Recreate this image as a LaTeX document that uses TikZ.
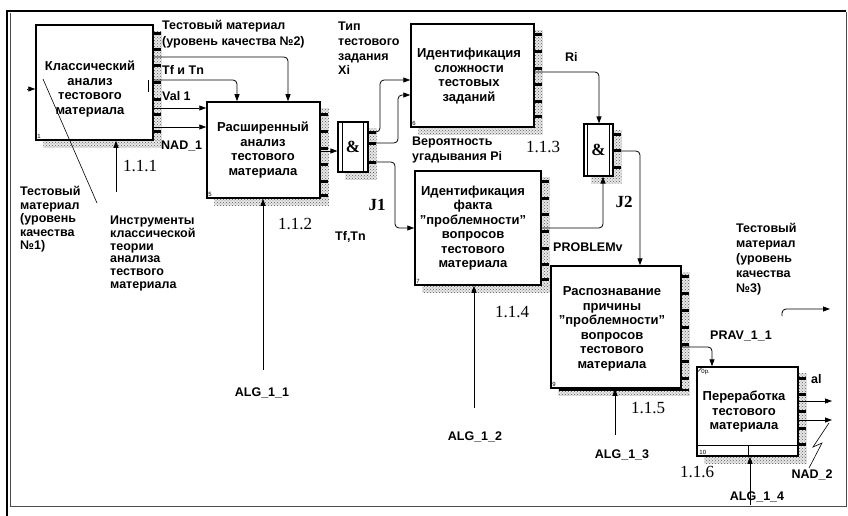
\documentclass[tikz,border=0pt]{standalone}
\usepackage{fontspec}
\setmainfont{Liberation Sans}
\newfontfamily\seriffont{Liberation Serif}
\usetikzlibrary{arrows.meta,patterns,calc,backgrounds}
\tikzset{
 proc/.style={draw, line width=1.5pt, fill=white, inner sep=0pt},
 lbl/.style={font=\bfseries\fontsize{12.5}{14.5}\selectfont, inner sep=0pt, align=left},
 btxt/.style={font=\bfseries\fontsize{13}{14.5}\selectfont, inner sep=0pt, align=center},
 num/.style={font=\seriffont\fontsize{17}{17}\selectfont, inner sep=0pt},
 jl/.style={font=\seriffont\bfseries\fontsize{17}{17}\selectfont, inner sep=0pt},
 conn/.style={line width=0.8pt, -{Triangle[length=7pt,width=5pt]}, rounded corners=4pt},
 plain/.style={line width=0.8pt},
 tinyt/.style={font=\fontsize{6}{6}\selectfont, inner sep=0pt},
 shade/.style={fill=gray!18, postaction={pattern=crosshatch dots, pattern color=black!65}},
}
\newcommand\shd[1]{%
 \fill[shade] ($(#1.north east)+(0,7)$) rectangle ($(#1.south east)+(8,7)$);
 \fill[shade] ($(#1.south west)+(8,0)$) rectangle ($(#1.south east)+(8,7)$);}
\newcommand\tks[2]{\foreach \t in {#2}{\fill[black] (#1,\t) rectangle ++(8,3);}}
\begin{document}
\begin{tikzpicture}[x=1pt,y=-1pt]
\useasboundingbox (0,0) rectangle (848,516);
% frame
\draw[line width=2pt] (7,516) -- (7,11) -- (846,11);
\draw[gray!60!black, line width=1pt] (10,13) -- (10,506) -- (846,506) -- (846,12);
% boxes
\node[proc, minimum width=117, minimum height=115] (b1) at (94.5,82.5) {};
\node[proc, minimum width=113, minimum height=96] (b5) at (263.5,150) {};
\node[proc, minimum width=123, minimum height=103] (b6) at (472.5,75.5) {};
\node[proc, minimum width=126, minimum height=114] (b7) at (478,228) {};
\node[proc, minimum width=130, minimum height=122] (b9) at (616,327) {};
\node[proc, minimum width=101, minimum height=89] (b10) at (747.5,411.5) {};
\node[proc, line width=1.2pt, minimum width=30, minimum height=50] (j1) at (353,147) {};
\node[proc, line width=1.2pt, minimum width=29, minimum height=52] (j2) at (598.5,150) {};
\begin{scope}[on background layer]
 \shd{b1}\shd{b5}\shd{b6}\shd{b7}\shd{b9}\shd{b10}\shd{j1}\shd{j2}
 \tks{153}{32,48,64,81,98,113,130}
 \tks{320}{113,130,147,163,180,194}
 \tks{534}{33,50,67,83,100,115}
 \tks{541}{180,197,213,230,247,263,278}
 \tks{681}{275,292,309,326,343,360,377}
 \tks{798}{377,393,410,427,443}
 \tks{368}{131,142,161}
 \tks{613}{133,149,166}
 \fill[black] (559,389) rectangle (689,391);
\end{scope}
% junction inner lines
\draw[line width=1pt] ([xshift=5pt]j1.north west) -- ([xshift=5pt]j1.south west)
  ([xshift=-5pt]j1.north east) -- ([xshift=-5pt]j1.south east);
\draw[line width=1pt] ([xshift=4pt]j2.north west) -- ([xshift=4pt]j2.south west)
  ([xshift=-4pt]j2.north east) -- ([xshift=-4pt]j2.south east);
\node[jl] (amp1) at (j1.center) {\&};
\node[jl] (amp2) at (j2.center) {\&};
% box 10 inner lines
\draw[line width=0.8pt] ($(b10.south west)+(0,-11)$) -- ($(b10.south east)+(0,-11)$);
\draw[line width=0.8pt] ($(b10.south)+(0.5,-11)$) -- ($(b10.south)+(0.5,0)$);
\draw[line width=0.6pt] ($(b10.north west)+(1,6)$) -- ($(b10.north west)+(7,0)$);
% box texts
\node[btxt] (t1) at (90,89) {Классический\\анализ\\тестового\\материала};
\node[btxt] (t5) at (263,150) {Расширенный\\анализ\\тестового\\материала};
\node[btxt] (t6) at (469,76) {Идентификация\\сложности\\тестовых\\заданий};
\node[btxt] (t7) at (473,228) {Идентификация\\факта\\\char34 проблемности\char34\\вопросов\\тестового\\материала};
\node[btxt] (t9) at (612,329) {Распознавание\\причины\\\char34 проблемности\char34\\вопросов\\тестового\\материала};
\node[btxt] (t10) at (744,412) {Переработка\\тестового\\материала};
% tiny numbers
\node[tinyt, anchor=south west] (n1) at ($(b1.south west)+(2,-2)$) {1};
\node[tinyt, anchor=south west] (n5) at ($(b5.south west)+(2,-2)$) {5};
\node[tinyt, anchor=south west] (n6) at ($(b6.south west)+(2,-2)$) {6};
\node[tinyt, anchor=south west] (n7) at ($(b7.south west)+(2,-2)$) {7};
\node[tinyt, anchor=south west] (n9) at ($(b9.south west)+(2,-2)$) {9};
\node[tinyt, anchor=south west] (n10) at ($(b10.south west)+(3,-2)$) {10};
\node[tinyt, anchor=north west] (op) at ($(b10.north west)+(5,3)$) {0р.};
% box1 mark and leader
\draw[line width=0.8pt] (148,80) -- (148,92);
\draw[line width=0.6pt] (43,79) -- (97,203);
% connectors
\coordinate (in1) at (27,89);
\draw[conn] (in1) -- (b1.west |- in1);
\draw[conn] (b1.east |- 0,57) -| (b5.north -| 288,0);
\draw[conn] (b1.east |- 0,80) -| (b5.north -| 237,0);
\draw[conn] (b1.east |- 0,108) -- (b5.west |- 0,108);
\draw[conn] (b1.east |- 0,127) -- (b5.west |- 0,127);
\draw[conn] (b5.east |- 0,151) -- (j1.west |- 0,151);
\draw[conn] (j1.east |- 0,132) -- (380,132) |- (b6.west |- 0,80);
\draw[conn] (j1.east |- 0,143) -- (398,143) |- (b6.west |- 0,95);
\draw[conn] (j1.east |- 0,162) -- (395,162) |- (b7.west |- 0,228);
\draw[conn] (b6.east |- 0,72) -| (j2.north -| 599,0);
\draw[conn] (b7.east |- 0,228) -| (j2.south -| 603,0);
\draw[conn] (j2.east |- 0,151) -| (b9.north -| 640,0);
\draw[conn] (b9.east |- 0,347) -| (b10.north -| 712,0);
\coordinate (o1) at (832,401);
\coordinate (o2) at (832,420);
\draw[conn] (b10.east |- o1) -- (o1);
\draw[conn] (b10.east |- o2) -- (o2);
\draw[plain, line width=0.6pt] (829,423) -- (813,447) -- (822,443) -- (809,468);
\coordinate (o3s) at (782,316);
\coordinate (o3) at (830,309);
\draw[conn] (o3s) |- (o3);
\coordinate (m1) at (116,192);
\coordinate (m5) at (263,370);
\coordinate (m7) at (474,408);
\coordinate (m9) at (615,435);
\coordinate (m10) at (750,505);
\draw[conn] (m1) -- (b1.south -| m1);
\draw[conn] (m5) -- (b5.south -| m5);
\draw[conn] (m7) -- (b7.south -| m7);
\draw[conn] (m9) -- (b9.south -| m9);
\draw[conn] (m10) -- (b10.south -| m10);
% labels
\node[lbl, anchor=north west, font=\bfseries\fontsize{12.5}{16.5}\selectfont] (lq2) at (162,20) {Тестовый материал\\(уровень качества №2)};
\node[lbl, anchor=west] (ltf) at (162,70) {Tf и Tn};
\node[lbl, anchor=west] (lval) at (162,96) {Val 1};
\node[lbl, anchor=west] (lnad1) at (161,146) {NAD\_1};
\node[lbl, anchor=north west, font=\bfseries\fontsize{12.5}{13.6}\selectfont] (lq1) at (20,186) {Тестовый\\материал\\(уровень\\качества\\№1)};
\node[lbl, anchor=north west, font=\bfseries\fontsize{12.5}{12.7}\selectfont] (ltools) at (110,216) {Инструменты\\классической\\теории\\анализа\\тествого\\материала};
\node[lbl, anchor=north west, font=\bfseries\fontsize{12.5}{14.7}\selectfont] (ltype) at (338,22) {Тип\\тестового\\задания\\Xi};
\node[lbl, anchor=north west] (lprob) at (412,137) {Вероятность\\угадывания Pi};
\node[lbl, anchor=west] (lri) at (565,57) {Ri};
\node[lbl, anchor=west] (lpv) at (553,247) {PROBLEMv};
\node[lbl, anchor=west] (ltftn) at (335,237) {Tf,Tn};
\node[lbl, anchor=west] (lprav) at (710,336) {PRAV\_1\_1};
\node[lbl, anchor=north west, font=\bfseries\fontsize{12.5}{15}\selectfont] (lq3) at (736,223) {Тестовый\\материал\\(уровень\\качества\\№3)};
\node[lbl, anchor=west] (lal) at (811,379) {al};
\node[lbl] (lnad2) at (812,475) {NAD\_2};
\node[lbl] (la1) at (262,393) {ALG\_1\_1};
\node[lbl] (la2) at (475,437) {ALG\_1\_2};
\node[lbl] (la3) at (622,455) {ALG\_1\_3};
\node[lbl] (la4) at (757,497) {ALG\_1\_4};
% numbers
\node[num] (c1) at (140,166) {1.1.1};
\node[num] (c2) at (295,224) {1.1.2};
\node[num] (c3) at (543,147) {1.1.3};
\node[num] (c4) at (512,312) {1.1.4};
\node[num] (c5) at (648,408) {1.1.5};
\node[num] (c6) at (697,472) {1.1.6};
\node[jl] (jj1) at (377,205) {J1};
\node[jl] (jj2) at (624,202) {J2};
\end{tikzpicture}
\end{document}
